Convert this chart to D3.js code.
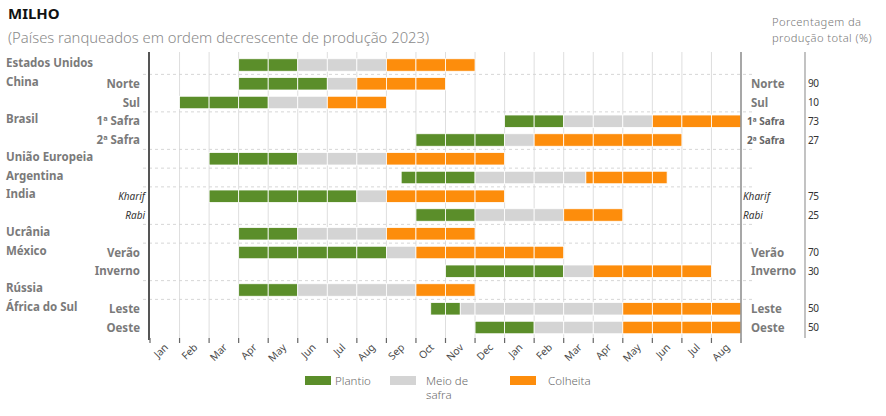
<!DOCTYPE html>
<html>
<head>
<meta charset="utf-8">
<script src="https://cdn.jsdelivr.net/npm/d3@7"></script>
<style>
  body { margin: 0; background: #fff; }
  svg { font-family: "Noto Sans", "Open Sans", sans-serif; }
</style>
</head>
<body>
<div id="chart"></div>
<script>
// month axis: Jan of year 1 to Aug of year 2
const months = ["Jan","Feb","Mar","Apr","May","Jun","Jul","Aug","Sep","Oct","Nov","Dec",
                "Jan","Feb","Mar","Apr","May","Jun","Jul","Aug"];

// one entry per row
const countries = ["Estados Unidos","China","","Brasil","","União Europeia","Argentina","India","",
                   "Ucrânia","México","","Rússia","África do Sul",""];
const regions = ["","Norte","Sul","1ª Safra","2ª Safra","","","Kharif","Rabi","","Verão","Inverno","","Leste","Oeste"];
const shares = [null,90,10,73,27,null,null,75,25,null,70,30,null,50,50];

// phases, in months from start of Jan (year 1)
const plantStart = [3, 3, 1, 12, 9, 2, 8.5, 2, 9, 3, 3, 10, 3, 9.5, 11];
const plantEnd   = [5, 6, 4, 14, 12, 5, 11, 7, 11, 5, 8, 14, 5, 10.5, 13];
const midEnd     = [8, 7, 6, 17, 13, 8, 14.75, 8, 14, 8, 9, 15, 9, 16, 16];
const harvestEnd = [11, 10, 8, 20, 18, 12, 17.5, 12, 16, 11, 14, 19, 11, 20, 20];

const phaseNames = ["Plantio", "Meio de safra", "Colheita"];
const phaseColors = ["#5b8e2a", "#d4d4d4", "#fd8d0c"];
const headerLines = ["Porcentagem da", "produção total (%)"];

const W = 886, H = 416;
const svg = d3.select("#chart").append("svg")
    .attr("width", W).attr("height", H);

const x = d3.scaleLinear().domain([0, months.length]).range([150, 741]);
const y = d3.scalePoint().domain(d3.range(countries.length)).range([65, 327.5]);
const barH = 12.5;
const gridTop = 52, gridBottom = 338;

// title
svg.append("text").attr("x", 8).attr("y", 19)
    .attr("font-size", 15).attr("font-weight", 700).attr("fill", "#111")
    .text("MILHO");
svg.append("text").attr("x", 8).attr("y", 43)
    .attr("font-size", 14.8).attr("font-weight", 300).attr("fill", "#8a8a8a")
    .text("(Países ranqueados em ordem decrescente de produção 2023)");

svg.append("g").selectAll("text").data(headerLines).join("text")
    .attr("x", 772).attr("y", (d, i) => 26 + i * 15.5)
    .attr("font-size", 11.2).attr("font-weight", 300).attr("fill", "#777")
    .attr("letter-spacing", 0.4)
    .text(d => d);

// vertical month grid
svg.append("g").selectAll("line").data(d3.range(1, months.length)).join("line")
    .attr("x1", d => x(d)).attr("x2", d => x(d))
    .attr("y1", gridTop).attr("y2", gridBottom)
    .attr("stroke", "#dedede").attr("stroke-width", 1);

// dashed separators between countries
const seps = d3.range(1, countries.length).filter(i => countries[i] !== "");
svg.append("g").selectAll("line").data(seps).join("line")
    .attr("x1", 143).attr("x2", 752)
    .attr("y1", i => (y(i) + y(i - 1)) / 2).attr("y2", i => (y(i) + y(i - 1)) / 2)
    .attr("stroke", "#d6d6d6").attr("stroke-dasharray", "3,3");

// bars, one cell per month
const cells = [];
countries.forEach((c, r) => {
  const bounds = [plantStart[r], plantEnd[r], midEnd[r], harvestEnd[r]];
  for (let p = 0; p < 3; p++) {
    let s = bounds[p];
    while (s < bounds[p + 1] - 1e-6) {
      const e = Math.min(Math.floor(s + 1e-6) + 1, bounds[p + 1]);
      cells.push({row: r, phase: p, s: s, e: e});
      s = e;
    }
  }
});
svg.append("g").selectAll("rect").data(cells).join("rect")
    .attr("x", d => x(d.s)).attr("width", d => x(d.e) - x(d.s))
    .attr("y", d => y(d.row) - barH / 2).attr("height", barH)
    .attr("fill", d => phaseColors[d.phase])
    .attr("stroke", "#fff").attr("stroke-width", 0.8);

// axes lines
svg.append("line").attr("x1", x(0) - 1).attr("x2", x(0) - 1).attr("y1", gridTop).attr("y2", gridBottom + 2)
    .attr("stroke", "#555").attr("stroke-width", 2);
svg.append("line").attr("x1", x(20)).attr("x2", x(20)).attr("y1", gridTop).attr("y2", gridBottom)
    .attr("stroke", "#8a8a8a").attr("stroke-width", 1.5);
svg.append("line").attr("x1", 805).attr("x2", 805).attr("y1", gridTop).attr("y2", gridBottom)
    .attr("stroke", "#9a9a9a").attr("stroke-width", 1.2);

// bottom ticks and month labels
svg.append("g").selectAll("line").data(d3.range(0, months.length + 1)).join("line")
    .attr("x1", d => x(d)).attr("x2", d => x(d))
    .attr("y1", gridBottom).attr("y2", gridBottom + 5)
    .attr("stroke", "#666").attr("stroke-width", 1.2);
svg.append("g").selectAll("text").data(months).join("text")
    .attr("transform", (d, i) => `translate(${x(i + 0.5) + 4},${gridBottom + 10}) rotate(-45)`)
    .attr("text-anchor", "end")
    .attr("font-size", 10.3).attr("fill", "#4a4a4a")
    .text(d => d);

// left labels
svg.append("g").selectAll("text").data(countries).join("text")
    .attr("x", 6).attr("y", (d, i) => y(i) - 2).attr("dy", "0.35em")
    .attr("font-size", 11.5).attr("font-weight", 700).attr("fill", "#7a7a7a")
    .text(d => d);

const italic = r => regions[r] === "Kharif" || regions[r] === "Rabi";
svg.append("g").selectAll("text").data(regions).join("text")
    .attr("x", (d, i) => italic(i) ? 145 : 140).attr("y", (d, i) => y(i)).attr("dy", "0.35em")
    .attr("text-anchor", "end")
    .attr("font-size", (d, i) => italic(i) ? 10 : 11.5)
    .attr("font-style", (d, i) => italic(i) ? "italic" : "normal")
    .attr("font-weight", (d, i) => italic(i) ? 400 : 700)
    .attr("fill", (d, i) => italic(i) ? "#333" : "#7a7a7a")
    .text(d => d);

// right labels
const safra = r => regions[r].indexOf("Safra") >= 0;
svg.append("g").selectAll("text").data(regions).join("text")
    .attr("x", (d, i) => italic(i) ? 743 : safra(i) ? 747 : 751)
    .attr("y", (d, i) => y(i)).attr("dy", "0.35em")
    .attr("font-size", (d, i) => italic(i) || safra(i) ? 10 : 11.5)
    .attr("font-style", (d, i) => italic(i) ? "italic" : "normal")
    .attr("font-weight", (d, i) => italic(i) ? 400 : 700)
    .attr("fill", (d, i) => italic(i) ? "#333" : safra(i) ? "#666" : "#7a7a7a")
    .text(d => d);

svg.append("g").selectAll("text").data(shares).join("text")
    .attr("x", 808).attr("y", (d, i) => y(i)).attr("dy", "0.35em")
    .attr("font-size", 10).attr("fill", "#333")
    .attr("letter-spacing", -0.4)
    .text(d => d === null ? "" : d);

// legend
const legX = [305, 390, 510];
const leg = svg.append("g").selectAll("g").data(phaseNames).join("g")
    .attr("transform", (d, i) => `translate(${legX[i]},376)`);
leg.append("rect").attr("width", 26).attr("height", 9)
    .attr("fill", (d, i) => phaseColors[i]);
leg.append("text").attr("x", (d, i) => i === 2 ? 38 : i === 1 ? 36 : 30).attr("y", 9)
    .attr("font-size", 11.5).attr("font-weight", 300).attr("fill", "#6a6a6a")
    .selectAll("tspan").data(d => d === "Meio de safra" ? ["Meio de", "safra"] : [d]).join("tspan")
    .attr("x", function() { return this.parentNode.getAttribute("x"); })
    .attr("dy", (d, i) => i ? 14 : 0)
    .text(d => d);
</script>
</body>
</html>
